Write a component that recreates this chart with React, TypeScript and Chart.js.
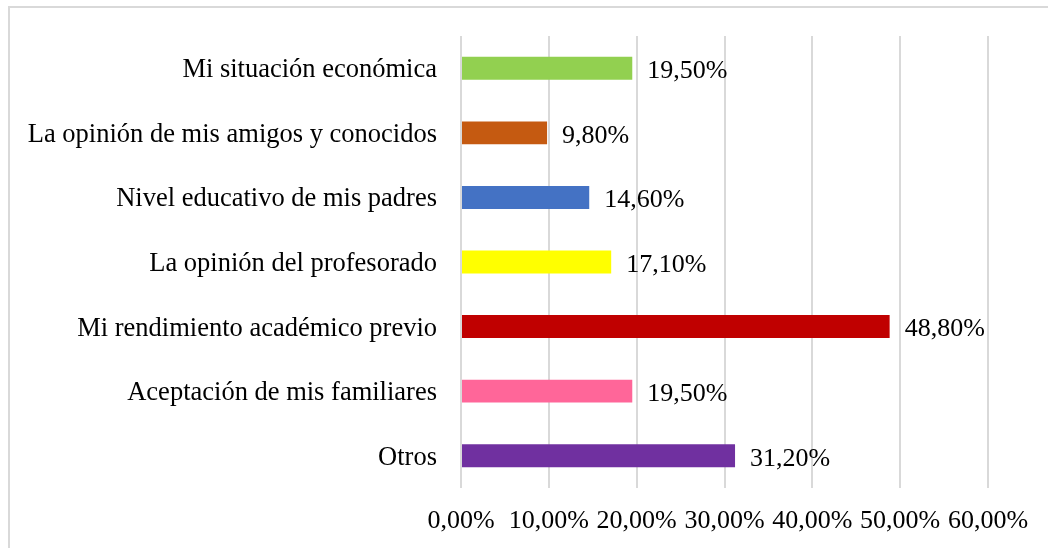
import React, { useEffect, useRef } from "react";
import { Chart, registerables } from "chart.js";

Chart.register(...registerables);

const categories = [
  "Mi situación económica",
  "La opinión de mis amigos y conocidos",
  "Nivel educativo de mis padres",
  "La opinión del profesorado",
  "Mi rendimiento académico previo",
  "Aceptación de mis familiares",
  "Otros",
];
const values = [19.5, 9.8, 14.6, 17.1, 48.8, 19.5, 31.2];
const barColors = ["#92D050", "#C55A11", "#4472C4", "#FFFF00", "#C00000", "#FF6699", "#7030A0"];
const xTicks = [0, 10, 20, 30, 40, 50, 60];

const fmt = (v: number) => v.toFixed(2).replace(".", ",") + "%";
const FONT = "'Liberation Serif', 'Times New Roman', serif";

const dataLabels = {
  id: "dataLabels",
  afterDatasetsDraw(chart: any) {
    const ctx = chart.ctx;
    const meta = chart.getDatasetMeta(0);
    ctx.save();
    ctx.font = `26px ${FONT}`;
    ctx.fillStyle = "#000";
    ctx.textAlign = "left";
    ctx.textBaseline = "middle";
    meta.data.forEach((bar: any, i: number) => {
      ctx.fillText(fmt(values[i]), bar.x + 15, bar.y + 3);
    });
    ctx.restore();
  },
};

export default function App() {
  const ref = useRef<HTMLCanvasElement>(null);
  useEffect(() => {
    if (!ref.current) return;
    const chart = new Chart(ref.current, {
      type: "bar",
      data: {
        labels: categories,
        datasets: [
          {
            data: values,
            backgroundColor: barColors,
            barPercentage: 0.71,
            categoryPercentage: 0.5,
          },
        ],
      },
      options: {
        indexAxis: "y",
        animation: false,
        responsive: false,
        layout: { padding: { top: 36, left: 0, right: 60, bottom: 0 } },
        plugins: { legend: { display: false }, tooltip: { enabled: false } },
        scales: {
          x: {
            min: 0,
            max: 60,
            afterBuildTicks: (axis: any) => {
              axis.ticks = xTicks.map((v) => ({ value: v }));
            },
            afterFit: (axis: any) => {
              axis.height = 60;
            },
            grid: { color: "#d9d9d9", lineWidth: 2, drawTicks: false },
            border: { display: false },
            ticks: {
              padding: 18,
              color: "#000",
              font: { family: FONT, size: 26 },
              maxRotation: 0,
              autoSkip: false,
              callback: (v: any) => fmt(Number(v)),
            },
          },
          y: {
            afterFit: (axis: any) => {
              axis.width = 461;
              axis.paddingTop = 0;
              axis.paddingBottom = 0;
            },
            grid: { display: false, drawTicks: false },
            border: { display: false },
            ticks: {
              padding: 24,
              labelOffset: 2,
              color: "#000",
              font: { family: FONT, size: 26.5 },
              autoSkip: false,
            },
          },
        },
      },
      plugins: [dataLabels],
    });
    return () => chart.destroy();
  }, []);
  return (
    <div style={{ position: "fixed", left: 0, top: 0, width: 1048, height: 548, background: "#fff", overflow: "hidden" }}>
      <div
        style={{
          position: "absolute",
          left: 8,
          top: 6,
          width: 1100,
          height: 600,
          border: "2px solid #d9d9d9",
          boxSizing: "border-box",
        }}
      />
      <canvas ref={ref} width={1048} height={548} style={{ position: "absolute", left: 0, top: 0 }} />
    </div>
  );
}
